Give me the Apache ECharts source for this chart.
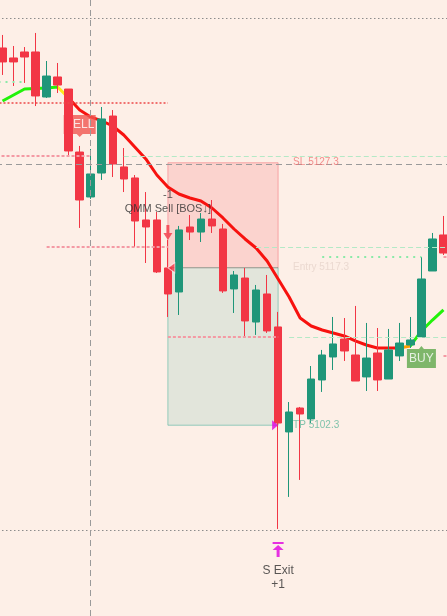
<!DOCTYPE html>
<html><head><meta charset="utf-8">
<script src="https://cdn.jsdelivr.net/npm/echarts@6/dist/echarts.min.js"></script>
<style>html,body{margin:0;padding:0;background:#fdefe7;overflow:hidden;width:447px;height:616px;position:relative;}
#c{position:absolute;left:-14px;top:0;width:474px;height:616px;}</style>
</head><body><div id="c"></div>
<script>
// ---- data ----
const categories = ['pad0','1','2','3','4','5','6','7','8','9','10','11','12','13','14','15','16','17','18','19','20',
  '21','22','23','24','25','26','27','28','29','30','31','32','33','34','35','36','37','38','39','40','41','pad1'];
const opens = [5138.23,5137.28,5137.85,5137.85,5133.56,5135.47,5134.32,5128.32,5124.04,5126.32,
  5131.75,5126.90,5125.85,5121.85,5121.85,5117.28,5114.99,5121.18,5120.70,5121.94,
  5120.99,5115.28,5116.32,5112.13,5114.80,5111.66,5101.66,5103.94,5102.90,5106.61,
  5108.80,5110.51,5108.99,5106.90,5109.18,5106.70,5108.90,5109.94,5110.70,5116.99,5120.42];
const closes = [5136.90,5136.90,5137.37,5133.66,5135.56,5134.70,5128.42,5123.75,5126.23,5131.47,
  5127.18,5125.75,5121.75,5121.18,5116.90,5114.80,5120.90,5120.70,5121.94,5121.28,
  5115.09,5116.61,5112.23,5115.18,5111.28,5102.51,5103.56,5103.37,5106.70,5108.99,
  5110.04,5109.37,5106.51,5108.70,5106.61,5109.47,5110.13,5110.42,5116.23,5120.04,5118.70];
const lows = [5135.66,5134.61,5134.90,5132.70,5133.47,5133.94,5127.94,5121.09,5123.85,5125.66,
  5125.94,5124.51,5119.28,5117.75,5116.80,5112.61,5112.80,5119.94,5119.75,5120.61,
  5114.90,5112.99,5110.70,5110.90,5111.09,5092.42,5095.47,5097.09,5102.51,5105.47,
  5107.56,5108.42,5106.51,5105.56,5105.56,5106.70,5108.42,5109.66,5110.70,5116.99,5118.51];
const highs = [5139.47,5138.42,5138.32,5139.66,5136.99,5136.80,5134.32,5128.90,5128.61,5132.61,
  5132.32,5128.70,5126.13,5124.51,5122.61,5119.94,5121.28,5122.32,5122.51,5123.75,
  5121.47,5116.99,5117.28,5115.66,5116.61,5113.09,5104.51,5104.04,5107.94,5109.47,
  5112.61,5112.51,5113.66,5112.04,5111.56,5111.47,5112.04,5112.61,5118.32,5120.61,5122.23];
const maValues = [5133.18,5133.75,5134.32,5134.37,5134.42,5134.51,5133.47,5132.32,5131.66,5131.28,
  5130.80,5129.94,5128.80,5127.66,5126.13,5124.99,5124.32,5123.94,5123.66,5122.99,
  5122.04,5120.99,5120.04,5119.18,5117.94,5116.23,5114.51,5112.51,5111.75,5111.37,
  5111.09,5110.80,5110.33,5109.94,5109.66,5109.66,5109.66,5109.85,5111.28,5112.32,5113.28];
// MA colour sections (category index boundaries)
const maSections = [[-1, 5.8, 'green'], [5.8, 6.8, 'yellow'], [6.8, 37.3, 'red'], [37.3, 38.2, 'orange'], [38.2, 99, 'green']];

const slPrice = 5127.3, entryPrice = 5117.3, tpPrice = 5102.3;
const tradeStart = 16, tradeEnd = 26;
const crossIdx = 9, crossPrice = 5127.18;
const grayDotted = [5141.09, 5092.32];
const redDotted = [[0, 16, 5132.99]];
const pinkDotted = [[0, 9, 5127.94], [5, 16, 5119.28], [16, 26, 5110.70], [41, 42, 5118.32], [41, 42, 5108.90]];
const greenDashed = [[12, 42, 5127.94], [24, 42, 5119.28], [27, 42, 5110.70]];
const greenDotted = [[30, 39, 5118.32], [0, 3, 5134.99]];

const sellLabel = [8, 5130.80], buyLabel = [39, 5108.80];
const sellArrow = [16, 5120.66], entryMark = [16, 5117.3], tpMark = [26, 5102.3], exitArrow = [26, 5090.47];
const noteTexts = ['-1', 'QMM Sell [BOS\u2193]', 'S Exit\n+1'];
const notePoints = [[16, 5124.23], [16, 5122.90], [26, 5087.75]];

// ---- build ----
const C = {green:'#22f20a', yellow:'#ffe81a', red:'#f7120f', orange:'#ffa000'};
const UP = '#1f9679', DOWN = '#f23645', MAG = '#e000e0';
const candleData = ['-'].concat(opens.map((o, i) => [o, closes[i], lows[i], highs[i]])).concat(['-']);
const maData = ['-'].concat(maValues).concat(['-']);
const blanks = categories.map(() => '-');
const seg = (arr, style) => arr.map(s => [{coord: [s[0], s[2]], lineStyle: style}, {coord: [s[1], s[2]]}]);
const FONT = 'Liberation Sans, Arial, sans-serif';

const markLines = []
  .concat(grayDotted.map(p => ({yAxis: p, lineStyle: {color: '#8c8c8c', width: 1, type: [1.5, 2.5]}})))
  .concat([{yAxis: crossPrice, lineStyle: {color: '#9a9a9a', width: 1, type: [6, 4]}},
           {xAxis: crossIdx, lineStyle: {color: '#9a9a9a', width: 1, type: [6, 4]}}])
  .concat(seg(redDotted, {color: '#ec4848', width: 1.5, type: [2, 2]}))
  .concat(seg(pinkDotted, {color: '#f49aa4', width: 2, type: [3, 2]}))
  .concat(seg(greenDashed, {color: '#b4e9c6', width: 1, type: [5, 3]}))
  .concat(seg(greenDotted, {color: '#8aeaa8', width: 2, type: [2, 5]}));

const option = {
  backgroundColor: '#fdefe7',
  animation: false,
  grid: {left: 0, right: 0, top: 0, bottom: 0},
  xAxis: {type: 'category', data: categories, show: false, boundaryGap: true},
  yAxis: {type: 'value', min: 5084.13, max: 5142.8, show: false},
  visualMap: {show: false, seriesIndex: 1, dimension: 0,
    pieces: maSections.map(s => ({gt: s[0], lte: s[1], color: C[s[2]]}))},
  series: [
    {type: 'line', z: 1, data: blanks, silent: true, symbol: 'none',
      markArea: {silent: true, data: [
        [{coord: [tradeStart, slPrice], itemStyle: {color: 'rgba(242,54,69,0.15)', borderColor: 'rgba(242,54,69,0.35)', borderWidth: 1}},
         {coord: [tradeEnd, entryPrice]}],
        [{coord: [tradeStart, entryPrice], itemStyle: {color: 'rgba(8,153,129,0.11)', borderColor: 'rgba(8,153,129,0.4)', borderWidth: 1}},
         {coord: [tradeEnd, tpPrice]}]]},
      markLine: {silent: true, symbol: 'none', label: {show: false}, data: markLines}},
    {type: 'line', z: 2, data: maData, symbol: 'none', lineStyle: {width: 3}, silent: true},
    {type: 'scatter', z: 3, silent: true, data: [sellLabel],
      symbol: 'path://M0,0H32V19H19L16,22L13,19H0Z', symbolSize: [32, 22],
      itemStyle: {color: '#f05550'},
      label: {show: true, position: 'inside', formatter: 'SELL', color: '#fff', fontSize: 12, fontFamily: FONT, offset: [0, -1.5]}},
    {type: 'candlestick', z: 4, data: candleData, barWidth: 8, silent: true,
      itemStyle: {color: UP, color0: DOWN, borderColor: UP, borderColor0: DOWN, borderWidth: 1}},
    {type: 'scatter', z: 5, silent: true, symbolSize: 0,
      data: [[tradeEnd, slPrice], [tradeEnd, entryPrice], [tradeEnd, tpPrice]].map((v, i) => ({value: v,
        label: {show: true, position: 'right', distance: 15, fontSize: 10, fontFamily: FONT,
          formatter: ['SL ' + slPrice, 'Entry ' + entryPrice, 'TP ' + tpPrice][i],
          color: ['#f07575', '#e6d3cb', '#5fb89c'][i]}}))},
    {type: 'scatter', z: 6, silent: true, symbolSize: 0,
      data: notePoints.map((v, i) => ({value: v,
        label: {show: true, position: 'inside', formatter: noteTexts[i], color: '#2e2e2e',
          fontSize: i === 2 ? 12 : 11, lineHeight: 14, fontFamily: FONT}}))},
    {type: 'scatter', z: 6, silent: true, data: [
      {value: sellArrow, symbol: 'path://M3,0H6V8H9L4.5,15L0,8H3Z', symbolSize: [9, 15], itemStyle: {color: DOWN}},
      {value: entryMark, symbol: 'path://M0,5L7,0L7,10Z', symbolSize: [7, 10], symbolOffset: [3.5, 0],
        itemStyle: {color: DOWN, borderColor: 'rgba(255,255,255,0.8)', borderWidth: 1}},
      {value: tpMark, symbol: 'path://M7,5L0,0L0,10Z', symbolSize: [6, 10], symbolOffset: [-3, 0], itemStyle: {color: MAG}},
      {value: exitArrow, symbol: 'path://M0,0H11V2H0ZM5.5,3L11,8H7V15H4V8H0Z', symbolSize: [11, 15], itemStyle: {color: MAG}}
    ]},
    {type: 'scatter', z: 7, silent: true, data: [buyLabel],
      symbol: 'path://M0,3H12L14.5,0L17,3H29V22H0Z', symbolSize: [29, 22],
      itemStyle: {color: '#5ea84b'},
      label: {show: true, position: 'inside', formatter: 'BUY', color: '#fff', fontSize: 12, fontFamily: FONT, offset: [0, 1.5]}}
  ]
};
const chart = echarts.init(document.getElementById('c'), null, {renderer: 'canvas'});
chart.setOption(option);
</script></body></html>
